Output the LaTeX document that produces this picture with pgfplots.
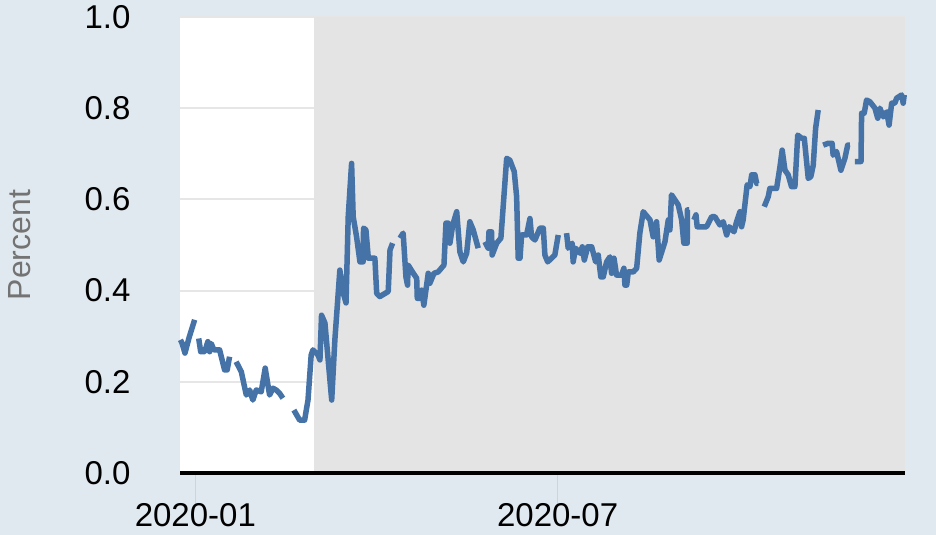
\documentclass[border=0pt]{standalone}
\usepackage{pgfplots}
\usepackage{pgfplotstable}
\pgfplotsset{compat=1.18}
\usepackage{fontspec}
\setmainfont{Liberation Sans}
\definecolor{bgblue}{HTML}{E1E9F0}
\definecolor{recess}{HTML}{E4E4E4}
\definecolor{fredline}{HTML}{4572A7}
\definecolor{gridgray}{HTML}{E6E6E6}
\definecolor{tickblue}{HTML}{C8D5E3}
\definecolor{labelgray}{HTML}{737373}

% days since 2020-01-01, value in percent
\pgfplotstableread{
d v
-7.5 0.292
-6.7 0.285
-5.2 0.263
-3.2 0.296
-0.35 0.336
nan nan
1.7 0.295
2.7 0.266
4.7 0.266
6.3 0.288
7.2 0.266
8.0 0.284
9.3 0.270
12.2 0.270
14.7 0.226
16.0 0.226
17.2 0.255
nan nan
20.5 0.244
23.1 0.222
25.6 0.171
27.3 0.182
28.9 0.160
30.6 0.182
33.1 0.178
35.1 0.230
37.3 0.171
39.0 0.186
40.6 0.182
42.3 0.175
44.0 0.164
nan nan
49.5 0.138
52.4 0.116
54.9 0.116
56.6 0.160
58.2 0.259
59.1 0.270
61.6 0.259
62.6 0.248
63.4 0.346
65.1 0.329
68.5 0.160
70.1 0.292
72.6 0.445
74.3 0.395
75.7 0.373
76.8 0.562
78.5 0.679
79.3 0.562
81.0 0.518
82.7 0.463
84.3 0.463
84.5 0.537
85.7 0.533
86.9 0.471
90.2 0.471
91.1 0.394
92.7 0.387
96.9 0.398
97.8 0.489
99.1 0.504
nan nan
102.8 0.515
104.4 0.526
105.8 0.430
106.6 0.412
106.9 0.456
109.5 0.438
111.2 0.427
111.5 0.383
112.8 0.383
113.7 0.401
114.8 0.368
117.0 0.438
117.8 0.416
119.9 0.438
122.0 0.441
124.9 0.456
125.9 0.548
127.0 0.548
127.9 0.504
129.3 0.544
131.3 0.573
132.9 0.485
134.6 0.463
136.3 0.482
137.9 0.551
139.6 0.533
142.1 0.493
nan nan
145.5 0.507
147.1 0.493
147.5 0.529
148.8 0.529
149.1 0.478
151.4 0.504
153.5 0.515
156.4 0.690
158.0 0.686
160.2 0.661
161.4 0.606
162.2 0.471
163.1 0.471
163.9 0.522
166.4 0.522
168.1 0.558
168.9 0.518
170.6 0.511
173.1 0.537
174.8 0.537
175.6 0.478
177.0 0.463
180.6 0.478
182.3 0.522
nan nan
186.5 0.526
187.3 0.493
189.3 0.504
189.8 0.463
191.0 0.493
193.2 0.482
194.4 0.496
195.4 0.467
197.1 0.496
199.1 0.496
201.1 0.463
202.4 0.478
203.7 0.430
204.9 0.430
206.6 0.463
208.3 0.474
209.1 0.438
210.3 0.471
211.6 0.434
214.1 0.434
215.3 0.449
215.8 0.412
216.7 0.412
217.5 0.441
220.0 0.441
221.7 0.449
223.3 0.526
225.0 0.573
228.4 0.555
230.0 0.518
231.7 0.551
233.0 0.467
235.9 0.507
237.6 0.555
238.4 0.533
239.2 0.610
242.6 0.588
244.3 0.555
245.4 0.504
247.1 0.504
247.2 0.577
248.1 0.577
nan nan
250.5 0.555
251.5 0.566
252.1 0.540
256.8 0.540
259.4 0.562
261.0 0.562
263.5 0.544
265.2 0.551
266.9 0.522
268.2 0.540
270.6 0.529
271.9 0.551
273.6 0.573
274.4 0.540
275.2 0.555
277.2 0.632
278.6 0.628
279.5 0.654
281.1 0.654
282.0 0.635
282.8 0.635
nan nan
285.8 0.584
287.8 0.606
288.6 0.624
292.0 0.624
293.7 0.672
294.8 0.708
296.2 0.664
297.8 0.654
299.5 0.628
301.2 0.628
302.6 0.741
304.6 0.734
305.9 0.734
307.9 0.646
309.2 0.650
310.4 0.675
311.6 0.756
312.9 0.796
nan nan
315.4 0.719
317.9 0.723
319.9 0.723
320.4 0.697
322.1 0.705
324.3 0.664
326.3 0.690
327.7 0.719
328.8 0.719
nan nan
331.3 0.683
334.4 0.683
334.7 0.789
336.0 0.789
337.2 0.818
338.9 0.814
341.4 0.800
342.8 0.778
343.9 0.800
345.6 0.781
347.3 0.792
348.5 0.763
349.8 0.811
351.4 0.811
352.3 0.822
354.8 0.829
355.6 0.811
356.1 0.829
}\seriesdata

\begin{document}
\begin{tikzpicture}
\fill[bgblue] (0,0) rectangle (936bp,535bp);
\useasboundingbox (0,0) rectangle (936bp,535bp);
\begin{axis}[
  at={(180bp,62bp)}, anchor=south west,
  width=725bp, height=456bp, scale only axis,
  xmin=-7.7, xmax=356.5,
  ymin=0, ymax=1.0,
  axis background/.style={fill=white},
  axis x line*=bottom, axis y line*=left,
  x axis line style={draw=none},
  y axis line style={draw=none},
  xtick={0,182}, xticklabels={2020-01,2020-07},
  ytick={0,0.2,0.4,0.6,0.8,1.0},
  yticklabel={\pgfmathprintnumber[fixed,fixed zerofill,precision=1]{\tick}},
  /pgf/number format/assume math mode=true,
  ymajorgrids, grid style={gridgray, line width=2bp},
  ytick style={draw=none},
  xtick style={draw=tickblue, line width=1.6bp},
  tick align=outside, major tick length=33bp,
  tick label style={font=\fontsize{33bp}{38bp}\selectfont, text=black},
  xticklabel style={inner sep=0pt, yshift=3bp},
  yticklabel style={xshift=-13bp},
  ylabel={Percent},
  ylabel style={at={(axis description cs:-0.2207,0.5)}, anchor=center, font=\fontsize{32bp}{37bp}\selectfont, text=labelgray},
  unbounded coords=jump,
  clip=false,
]
\addplot[fill=recess, draw=none] coordinates {(59.6,0) (59.6,1.0) (356.5,1.0) (356.5,0)} -- cycle;
\addplot[black, line width=4.5bp] coordinates {(-7.7,0) (356.5,0)};
\addplot[fredline, line width=5.5bp, line join=round, line cap=butt] table[x=d, y=v] {\seriesdata};
\end{axis}
\end{tikzpicture}
\end{document}
